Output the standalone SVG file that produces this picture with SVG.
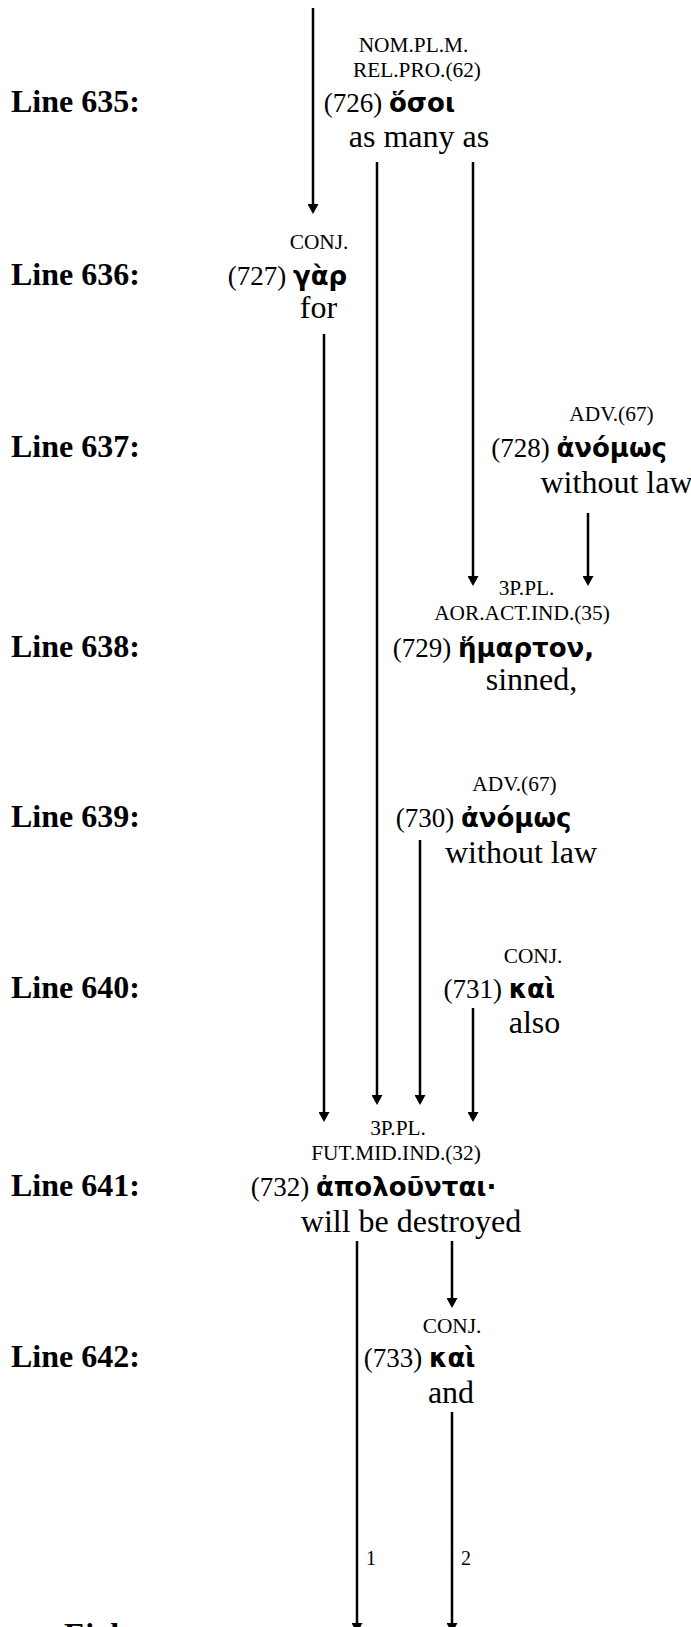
<svg xmlns="http://www.w3.org/2000/svg" width="691" height="1627" viewBox="0 0 691 1627">
<defs>
<style>
.ln{font-family:"Liberation Serif","Times New Roman",serif;font-size:32px;font-weight:bold;fill:#000}
.mo{font-family:"Liberation Serif","Times New Roman",serif;font-size:21.33px;text-anchor:middle;fill:#000}
.gl{font-family:"Liberation Serif","Times New Roman",serif;font-size:32px;text-anchor:middle;fill:#000}
.num{font-family:"Liberation Serif","Times New Roman",serif;font-size:27px;fill:#000}
.gk{font-family:"DejaVu Sans","Noto Sans",sans-serif;font-size:26px;font-weight:bold}
.edge{stroke:#000;stroke-width:2.5;fill:none;marker-end:url(#ah)}
.el{font-family:"Liberation Serif","Times New Roman",serif;font-size:20px;fill:#000}
</style>
<marker id="ah" markerUnits="userSpaceOnUse" markerWidth="11" markerHeight="11" refX="2" refY="5.5" orient="auto"><path d="M0,0 L10,5.5 L0,11 z" fill="#000"/></marker>
</defs>
<rect width="691" height="1627" fill="#fff"/>
<g id="line-labels">
<text class="ln" x="11" y="112">Line 635:</text>
<text class="ln" x="11" y="285">Line 636:</text>
<text class="ln" x="11" y="457">Line 637:</text>
<text class="ln" x="11" y="657">Line 638:</text>
<text class="ln" x="11" y="827">Line 639:</text>
<text class="ln" x="11" y="998">Line 640:</text>
<text class="ln" x="11" y="1196">Line 641:</text>
<text class="ln" x="11" y="1367">Line 642:</text>
<text class="ln" x="64" y="1645">Eight</text>
</g>
<g id="connectors">
<path class="edge" d="M313,8 V206"/>
<path class="edge" d="M377,162 V1097"/>
<path class="edge" d="M473,162 V578"/>
<path class="edge" d="M324,334 V1114"/>
<path class="edge" d="M588,513 V578"/>
<path class="edge" d="M420,840 V1097"/>
<path class="edge" d="M473,1008 V1114"/>
<path class="edge" d="M452,1241 V1300"/>
<path class="edge" d="M357,1241 V1625"/>
<path class="edge" d="M452,1412 V1625"/>
<text class="el" x="366" y="1565">1</text>
<text class="el" x="461" y="1565">2</text>
</g>
<g id="n726">
<text class="mo" x="413.5" y="52">NOM.PL.M.</text>
<text class="mo" x="417" y="77">REL.PRO.(62)</text>
<text class="num" x="323.7" y="112">(726) <tspan class="gk">ὅσοι</tspan></text>
<text class="gl" x="419" y="147">as many as</text>
</g>
<g id="n727">
<text class="mo" x="319" y="249">CONJ.</text>
<text class="num" x="227.7" y="285">(727) <tspan class="gk">γὰρ</tspan></text>
<text class="gl" x="318.5" y="318">for</text>
</g>
<g id="n728">
<text class="mo" x="611.5" y="421">ADV.(67)</text>
<text class="num" x="491.2" y="457">(728) <tspan class="gk">ἀνόμως</tspan></text>
<text class="gl" x="616.5" y="493">without law</text>
</g>
<g id="n729">
<text class="mo" x="526.5" y="595">3P.PL.</text>
<text class="mo" x="522" y="620">AOR.ACT.IND.(35)</text>
<text class="num" x="392.7" y="657">(729) <tspan class="gk">ἥμαρτον,</tspan></text>
<text class="gl" x="531.5" y="690">sinned,</text>
</g>
<g id="n730">
<text class="mo" x="514.5" y="791">ADV.(67)</text>
<text class="num" x="395.7" y="827">(730) <tspan class="gk">ἀνόμως</tspan></text>
<text class="gl" x="521" y="863">without law</text>
</g>
<g id="n731">
<text class="mo" x="533" y="963">CONJ.</text>
<text class="num" x="443.4" y="998">(731) <tspan class="gk">καὶ</tspan></text>
<text class="gl" x="534.5" y="1033">also</text>
</g>
<g id="n732">
<text class="mo" x="398" y="1135">3P.PL.</text>
<text class="mo" x="396" y="1160">FUT.MID.IND.(32)</text>
<text class="num" x="250.7" y="1196">(732) <tspan class="gk">ἀπολοῦνται·</tspan></text>
<text class="gl" x="411" y="1232">will be destroyed</text>
</g>
<g id="n733">
<text class="mo" x="452" y="1333">CONJ.</text>
<text class="num" x="363.7" y="1367">(733) <tspan class="gk">καὶ</tspan></text>
<text class="gl" x="451" y="1403">and</text>
</g>
</svg>
